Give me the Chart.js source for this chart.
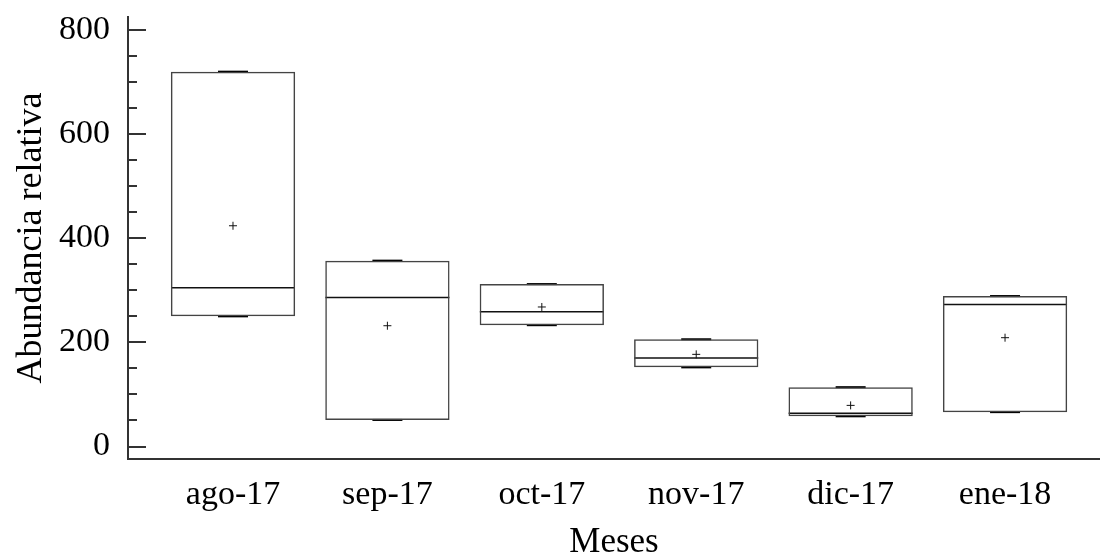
<!DOCTYPE html>
<html>
<head>
<meta charset="utf-8">
<script src="https://cdn.jsdelivr.net/npm/chart.js@4.4.0/dist/chart.umd.min.js"></script>
<style>
  html, body { margin: 0; padding: 0; background: #fff; }
  #wrap { width: 1100px; height: 560px; }
</style>
</head>
<body>
<div id="wrap"><canvas id="grafico"></canvas></div>
<script>
// datos
var meses = ['ago-17', 'sep-17', 'oct-17', 'nov-17', 'dic-17', 'ene-18'];
var minimos = [250, 51, 233, 152, 58, 66];
var maximos = [720, 357, 312, 206, 114, 289];
var medianas = [305, 286, 259, 170, 64, 273];
var medias = [424, 232, 268, 177, 79, 209];
var ticksY = [0, 50, 100, 150, 200, 250, 300, 350, 400, 450, 500, 550, 600, 650, 700, 750, 800];

var fuente = "'Liberation Serif', 'Times New Roman', serif";

// marcas del eje Y hacia dentro
var marcasY = {
    id: 'marcasY',
    afterDraw: function (chart) {
        var y = chart.scales.y;
        var ctx = chart.ctx;
        var left = chart.chartArea.left;
        ctx.save();
        ctx.strokeStyle = '#333';
        ctx.lineWidth = 2;
        y.ticks.forEach(function (t) {
            var py = Math.round(y.getPixelForValue(t.value));
            var largo = t.value % 200 === 0 ? 18 : 9;
            ctx.beginPath();
            ctx.moveTo(left, py);
            ctx.lineTo(left + largo, py);
            ctx.stroke();
        });
        ctx.restore();
    }
};

function sinRelleno(s) {
    s.paddingLeft = 0; s.paddingRight = 0; s.paddingTop = 0; s.paddingBottom = 0;
}

var ctx = document.getElementById('grafico').getContext('2d');
var grafico = new Chart(ctx, {
    type: 'bar',
    data: {
        datasets: [{
            label: 'Caja',
            data: meses.map((m, i) => ({ x: i, y: [minimos[i], maximos[i]] })),
            backgroundColor: 'rgba(255,255,255,0)',
            borderColor: '#444',
            borderWidth: 1.5,
            borderSkipped: false,
            categoryPercentage: 1,
            barPercentage: 0.805
        }, {
            type: 'scatter',
            label: 'Mediana',
            data: meses.map((m, i) => ({ x: i, y: medianas[i] })),
            pointStyle: 'line',
            radius: 62,
            borderColor: '#111',
            borderWidth: 1.5
        }, {
            type: 'scatter',
            label: 'Bigote sup',
            data: meses.map((m, i) => ({ x: i, y: maximos[i] })),
            pointStyle: 'line',
            radius: 15,
            borderColor: '#000',
            borderWidth: 2
        }, {
            type: 'scatter',
            label: 'Bigote inf',
            data: meses.map((m, i) => ({ x: i, y: minimos[i] })),
            pointStyle: 'line',
            radius: 15,
            borderColor: '#000',
            borderWidth: 2
        }, {
            type: 'scatter',
            label: 'Media',
            data: meses.map((m, i) => ({ x: i, y: medias[i] })),
            pointStyle: 'cross',
            radius: 4,
            borderColor: '#111',
            borderWidth: 1
        }]
    },
    options: {
        responsive: true,
        maintainAspectRatio: false,
        animation: false,
        layout: { autoPadding: false, padding: { top: 17, right: 0, left: 0, bottom: 0 } },
        plugins: {
            legend: { display: false },
            tooltip: { enabled: false }
        },
        scales: {
            x: {
                type: 'linear',
                offset: false,
                min: -0.68,
                max: 5.615,
                afterBuildTicks: function (s) { s.ticks = meses.map((m, i) => ({ value: i })); },
                afterFit: function (s) { s.height = 101; sinRelleno(s); },
                grid: { display: true, drawOnChartArea: false, drawTicks: false },
                border: { display: true, color: '#333', width: 2 },
                ticks: {
                    autoSkip: false,
                    maxRotation: 0,
                    padding: 16,
                    color: '#000',
                    font: { family: fuente, size: 34 },
                    callback: function (v) { return meses[v]; }
                },
                title: {
                    display: true,
                    text: 'Meses',
                    color: '#000',
                    font: { family: fuente, size: 35 },
                    padding: { top: 0, bottom: -4 }
                }
            },
            y: {
                min: -24,
                max: 825,
                afterBuildTicks: function (s) { s.ticks = ticksY.map(v => ({ value: v })); },
                afterFit: function (s) { s.width = 128; sinRelleno(s); },
                grid: { display: true, drawOnChartArea: false, drawTicks: false },
                border: { display: true, color: '#333', width: 2 },
                ticks: {
                    autoSkip: false,
                    padding: 18,
                    color: '#000',
                    font: { family: fuente, size: 34 },
                    callback: function (v) { return v % 200 === 0 ? v : ''; }
                },
                title: {
                    display: true,
                    text: 'Abundancia relativa',
                    color: '#000',
                    font: { family: fuente, size: 36 },
                    padding: { top: 10, bottom: 0 }
                }
            }
        }
    },
    plugins: [marcasY]
});
</script>
</body>
</html>
